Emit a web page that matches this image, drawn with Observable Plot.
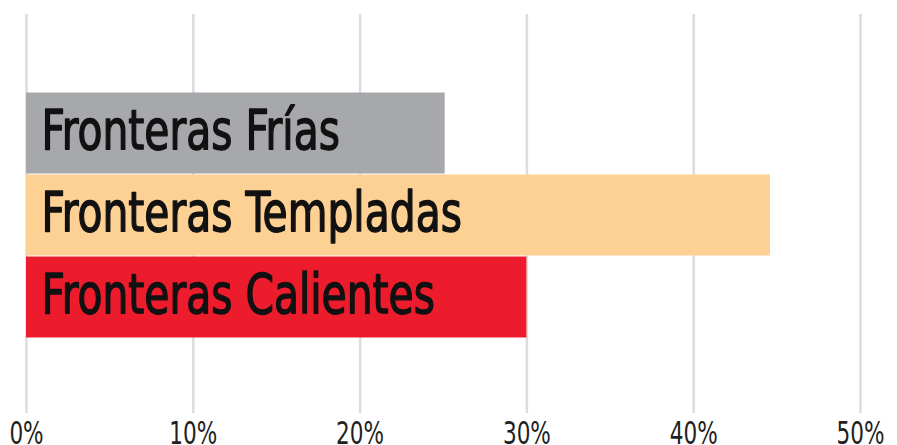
<!DOCTYPE html>
<html>
<head>
<meta charset="utf-8">
<script src="https://cdn.jsdelivr.net/npm/d3@7"></script>
<script src="https://cdn.jsdelivr.net/npm/@observablehq/plot@0.6"></script>
<style>
  html, body { margin: 0; padding: 0; background: #fff; }
  #chart svg { display: block; }
</style>
</head>
<body>
<div id="chart"></div>
<script>
const categories = ["Fronteras Frías", "Fronteras Templadas", "Fronteras Calientes"];
const values = [25.1, 44.6, 30.0];
const colors = ["#a7a8ac", "#fdd094", "#ec1c2d"];
const ticks = [0, 10, 20, 30, 40, 50];

const data = categories.map((c, i) => ({category: c, value: values[i], color: colors[i]}));
const font = "'DejaVu Sans Condensed', 'Liberation Sans Narrow', sans-serif";

const chart = Plot.plot({
  width: 897,
  height: 445,
  marginTop: 14,
  marginBottom: 32,
  marginLeft: 26,
  marginRight: 37,
  style: {fontFamily: font, background: "#fff"},
  x: {domain: [0, 50], ticks: ticks, label: null},
  y: {domain: categories, range: [91, 338], padding: 0, axis: null},
  marks: [
    Plot.gridX(ticks, {stroke: "#dcdcdf", strokeWidth: 2.5, strokeOpacity: 1}),
    Plot.axisX(ticks, {
      tickSize: 0,
      tickPadding: 8,
      tickFormat: d => d + "%",
      fontSize: 32,
      fill: "#231f20",
      stroke: "#231f20",
      strokeWidth: 0.5,
      fontFamily: font,
      label: null
    }),
    Plot.barX(data, {x: "value", y: "category", fill: "color", insetTop: 0.5, insetBottom: 0.5}),
    Plot.text(data, {
      x: 0, y: "category", text: "category",
      textAnchor: "start", dx: 15, dy: -2,
      fontSize: 56, fill: "#111", stroke: "#111", strokeWidth: 1.4,
      fontFamily: font
    })
  ]
});
document.getElementById("chart").append(chart);

// Condense the bar labels (start-anchored) via textLength
d3.select(chart).selectAll("g[aria-label='text'] text").each(function() {
  const w = this.getComputedTextLength();
  this.setAttribute("textLength", w * 0.81);
  this.setAttribute("lengthAdjust", "spacingAndGlyphs");
});
// Condense the centered tick labels by a horizontal scale about their anchor
d3.select(chart).selectAll("g[aria-label='x-axis tick label'] text").each(function() {
  const t = this.getAttribute("transform") || "";
  this.setAttribute("transform", t + " scale(0.75,1)");
});
</script>
</body>
</html>
